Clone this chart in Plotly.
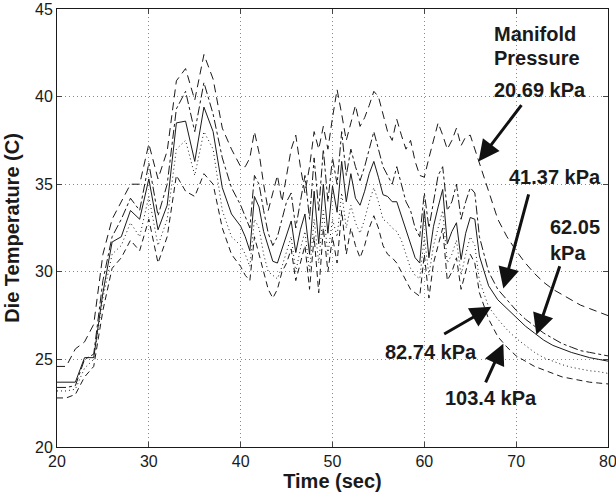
import plotly.graph_objects as go

# Time axis (sec)
time = [20, 21, 22, 23, 24, 25, 26, 27, 28, 29, 30, 31, 32, 33, 34, 35, 36, 37, 38, 39, 40,
        40.5, 41, 41.5, 42, 42.5, 43, 43.5, 44, 44.5, 45, 45.5, 46, 46.5, 47, 47.5, 48, 48.5, 49, 49.5, 50,
        50.5, 51, 51.5, 52, 52.5, 53, 53.5, 54, 54.5, 55, 55.5, 56, 56.5, 57, 57.5, 58, 58.5, 59, 59.5, 60,
        60.5, 61, 61.5, 62, 62.5, 63, 63.5, 64, 64.5, 65, 65.5, 66,
        67, 68, 69, 70, 71, 72, 73, 74, 75, 76, 77, 78, 79, 80]

# Die temperature (C) for each manifold pressure
temp_20_69 = [24.6, 24.6, 25.6, 26.0, 27.0, 31.0, 33.0, 34.0, 35.0, 35.0, 37.3, 35.3, 36.9, 40.9, 41.6, 39.8, 42.4, 41.0, 38.2, 37.0, 36.0,
              36.0, 36.5, 38.0, 36.8, 35.0, 33.5, 34.5, 35.5, 34.0, 35.5, 37.0, 37.8, 36.0, 34.5, 36.0, 38.0, 37.0, 38.3, 37.0, 38.8,
              40.4, 39.0, 37.5, 38.5, 39.5, 38.3, 38.8, 39.5, 40.3, 40.0, 39.0, 38.0, 37.5, 38.7, 37.8, 37.0, 37.5, 36.3, 35.5, 35.4,
              36.5, 37.5, 38.5, 37.8, 37.0, 37.5, 38.2, 37.2, 37.7, 37.8, 37.0, 36.3,
              34.6, 33.0, 32.0, 31.2, 30.5, 29.9, 29.4, 29.0, 28.7, 28.4, 28.1, 27.9, 27.7, 27.5]

temp_41_37 = [23.4, 23.4, 23.5, 25.0, 25.3, 29.5, 32.0, 33.0, 34.2, 33.5, 36.2, 33.2, 35.0, 39.3, 40.3, 38.0, 40.8, 39.0, 36.5, 34.8, 33.8,
              33.2, 32.5, 35.5, 35.0, 33.5, 32.2, 31.5, 32.0, 33.0, 34.0, 34.5, 32.5, 34.0, 35.5, 33.0, 36.5, 33.5, 37.0, 34.0, 36.5,
              35.0, 38.0, 35.5, 37.0, 36.0, 35.2, 36.0, 37.0, 38.0, 37.0, 36.0, 35.5, 35.0, 36.0, 35.0, 34.0, 33.5, 32.5, 32.0, 34.5,
              32.5, 34.0, 35.5, 36.0, 33.5, 34.0, 35.0, 33.0, 34.0, 34.8, 34.5, 32.0,
              30.0, 29.0, 28.4, 27.8, 27.3, 26.9, 26.5, 26.2, 25.9, 25.7, 25.5, 25.4, 25.3, 25.2]

temp_62_05 = [23.7, 23.7, 23.7, 25.1, 25.1, 28.8, 31.7, 32.0, 33.5, 33.0, 35.3, 32.4, 33.8, 38.5, 38.6, 36.3, 39.4, 38.0, 34.8, 33.3, 32.6,
              32.0, 31.2, 34.3, 33.7, 32.3, 31.4, 30.6, 30.5, 31.3, 32.2, 32.9, 31.1, 32.4, 33.3, 31.0, 34.6, 31.6, 35.0, 32.2, 34.9,
              33.4, 36.3, 34.0, 35.6, 34.2, 33.8, 34.6, 35.6, 36.3, 35.4, 34.4, 34.3, 34.0, 34.0, 33.2, 32.4, 31.5, 30.8, 30.5, 33.5,
              30.8, 32.6, 33.7, 34.7, 31.6, 32.3, 32.8, 30.7, 32.2, 33.1, 33.0, 30.9,
              29.2, 28.4, 27.9, 27.4, 26.9, 26.5, 26.1, 25.8, 25.6, 25.4, 25.25, 25.1, 25.0, 24.9]

temp_82_74 = [23.2, 23.2, 23.3, 24.5, 25.0, 28.5, 31.0, 31.5, 32.8, 32.0, 34.3, 31.5, 33.0, 37.0, 37.5, 35.5, 38.0, 37.0, 33.5, 32.0, 31.5,
              31.0, 30.3, 33.0, 32.5, 31.0, 30.0, 29.8, 29.6, 30.3, 31.2, 32.0, 30.0, 31.3, 32.3, 30.0, 33.0, 30.5, 33.5, 31.0, 33.0,
              32.0, 34.5, 32.5, 33.8, 32.8, 32.2, 33.0, 34.0, 34.8, 34.0, 33.0, 32.8, 32.5, 32.3, 31.8, 31.0, 30.2, 29.8, 29.6, 32.0,
              29.8, 31.5, 32.5, 33.5, 30.5, 31.0, 31.8, 29.8, 31.0, 32.0, 31.5, 29.5,
              28.0, 27.3, 26.7, 26.2, 25.8, 25.4, 25.1, 24.9, 24.7, 24.55, 24.45, 24.35, 24.3, 24.2]

temp_103_4 = [22.8, 22.8, 23.0, 24.0, 24.6, 27.8, 30.2, 30.8, 31.8, 31.2, 33.0, 30.5, 32.0, 35.5, 34.6, 34.3, 35.6, 35.0, 32.5, 31.0, 30.3,
              29.8, 29.5, 32.0, 31.0, 30.0, 29.0, 28.5, 29.0, 30.0, 30.5, 31.3, 29.5, 30.5, 31.5, 29.0, 32.0, 28.8, 32.5, 30.0, 32.0,
              30.5, 33.5, 31.0, 32.5, 31.5, 30.8, 31.5, 32.5, 33.2, 32.5, 31.5, 31.0, 30.8, 30.5, 30.0, 29.5, 29.0, 28.8, 28.6, 31.0,
              28.5, 30.5, 31.5, 32.5, 29.5, 30.0, 30.8, 29.0, 30.0, 31.0, 30.5, 28.8,
              27.3, 26.3, 25.7, 25.2, 24.9, 24.6, 24.4, 24.2, 24.0, 23.9, 23.8, 23.7, 23.65, 23.6]

x_ticks = [20, 30, 40, 50, 60, 70, 80]
y_ticks = [20, 25, 30, 35, 40, 45]

# label text, text position (x, y), arrow tail (x, y), arrow head (x, y)
labels = ["20.69 kPa", "41.37 kPa", "62.05<br>kPa", "82.74 kPa", "103.4 kPa"]
label_pos = [(67.35, 40.4), (68.95, 35.4), (73.5, 31.8), (55.5, 25.45), (62.0, 22.8)]
arrow_tail = [(70.7, 39.6), (71.4, 34.5), (74.8, 30.4), (62.0, 26.4), (66.6, 23.6)]
arrow_head = [(65.9, 36.3), (68.6, 29.05), (72.2, 26.4), (67.3, 28.0), (68.6, 25.9)]

series = [
    (temp_20_69, "20.69 kPa", "8px,5px"),
    (temp_41_37, "41.37 kPa", "dashdot"),
    (temp_62_05, "62.05 kPa", "solid"),
    (temp_82_74, "82.74 kPa", "1px,3px"),
    (temp_103_4, "103.4 kPa", "6px,4px"),
]

fig = go.Figure()
for vals, name, dash in series:
    fig.add_trace(go.Scatter(x=time, y=vals, mode="lines", name=name,
                             line=dict(color="#1a1a1a", width=1, dash=dash)))

FONT = "Liberation Sans, Arial, sans-serif"
AFS = 20
ann = []
ann.append(dict(x=67.35, y=43.6, xref="x", yref="y", text="<b>Manifold</b>", showarrow=False,
                xanchor="left", yanchor="middle", font=dict(size=AFS, color="#1a1a1a", family=FONT)))
ann.append(dict(x=67.35, y=42.2, xref="x", yref="y", text="<b>Pressure</b>", showarrow=False,
                xanchor="left", yanchor="middle", font=dict(size=AFS, color="#1a1a1a", family=FONT)))
for lab, (tx, ty) in zip(labels, label_pos):
    ann.append(dict(x=tx, y=ty, xref="x", yref="y", text="<b>" + lab + "</b>", showarrow=False,
                    xanchor="left", yanchor="middle", align="left",
                    font=dict(size=AFS, color="#1a1a1a", family=FONT)))
for (ax, ay), (hx, hy) in zip(arrow_tail, arrow_head):
    ann.append(dict(x=hx, y=hy, ax=ax, ay=ay, xref="x", yref="y", axref="x", ayref="y",
                    text="", showarrow=True, arrowhead=2, arrowsize=1.4, arrowwidth=3,
                    arrowcolor="#111111", standoff=0, startstandoff=0))

fig.update_layout(
    width=616, height=497,
    margin=dict(l=57, r=8, t=9, b=50),
    paper_bgcolor="white", plot_bgcolor="white",
    showlegend=False,
    font=dict(family=FONT, size=16, color="#1a1a1a"),
    annotations=ann,
)
fig.update_xaxes(range=[20, 80], tickvals=x_ticks, ticks="inside", ticklen=5,
                 showline=True, linecolor="#1a1a1a", linewidth=1, mirror="ticks",
                 showgrid=True, gridcolor="#8a8a8a", griddash="1px,3px", gridwidth=1,
                 zeroline=False, tickfont=dict(size=16), automargin=False,
                 ticklabeloverflow="allow",
                 title=dict(text="<b>Time (sec)</b>", font=dict(size=20), standoff=4))
fig.update_yaxes(range=[20, 45], tickvals=y_ticks, ticks="inside", ticklen=5,
                 showline=True, linecolor="#1a1a1a", linewidth=1, mirror="ticks",
                 showgrid=True, gridcolor="#8a8a8a", griddash="1px,3px", gridwidth=1,
                 zeroline=False, tickfont=dict(size=16), automargin=False,
                 ticklabeloverflow="allow",
                 title=dict(text="<b>Die Temperature (C)</b>", font=dict(size=20), standoff=10))

fig.write_html("out.html", config={"displayModeBar": False},
               post_script="document.body.style.margin='0';document.body.style.padding='0';")
